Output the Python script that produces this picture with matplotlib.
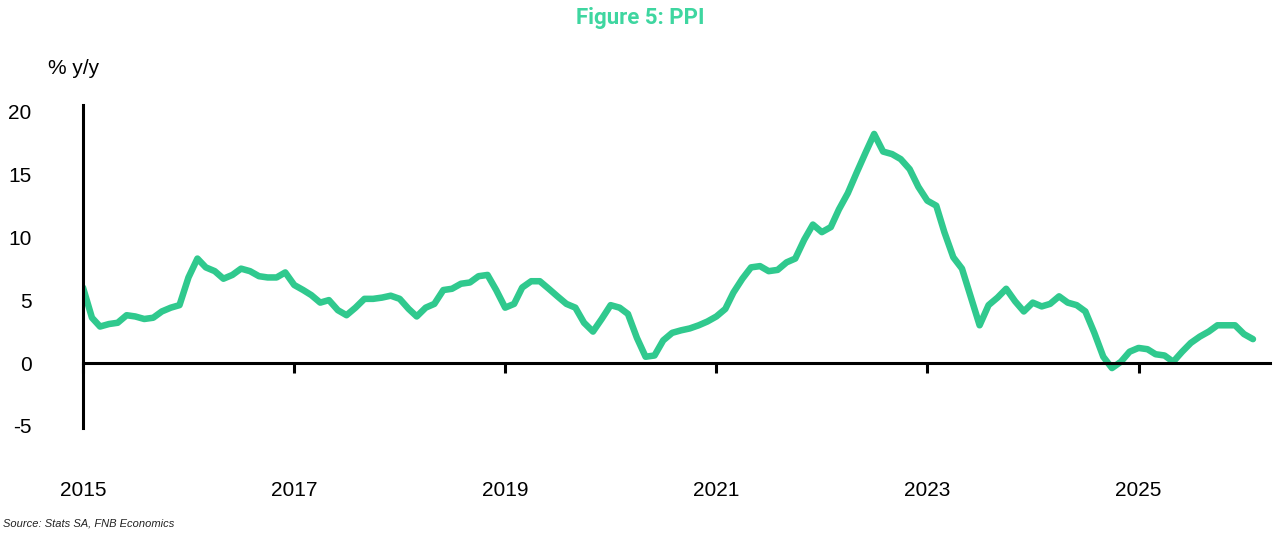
import numpy as np
import pandas as pd
import matplotlib.pyplot as plt

plt.rcParams['font.family'] = ['Liberation Sans', 'DejaVu Sans']

# PPI, % y/y, monthly from Jan 2015
ppi = [
    6.0, 3.6, 2.9, 3.1, 3.2, 3.8, 3.7, 3.5, 3.6, 4.1, 4.4, 4.6,
    6.8, 8.3, 7.6, 7.3, 6.7, 7.0, 7.5, 7.3, 6.9, 6.8, 6.8, 7.2,
    6.2, 5.8, 5.4, 4.8, 5.0, 4.2, 3.8, 4.4, 5.1, 5.1, 5.2, 5.35,
    5.1, 4.3, 3.7, 4.4, 4.7, 5.8, 5.9, 6.3, 6.4, 6.9, 7.0, 5.8,
    4.4, 4.7, 6.0, 6.5, 6.5, 5.9, 5.3, 4.7, 4.4, 3.2, 2.5, 3.5,
    4.6, 4.4, 3.9, 2.0, 0.5, 0.6, 1.8, 2.4, 2.6, 2.75, 3.0, 3.3,
    3.7, 4.3, 5.6, 6.7, 7.6, 7.7, 7.3, 7.4, 8.0, 8.3, 9.8, 11.0,
    10.4, 10.8, 12.2, 13.5, 15.1, 16.7, 18.2, 16.8, 16.6, 16.2, 15.4, 14.0,
    12.9, 12.5, 10.4, 8.4, 7.5, 5.2, 3.0, 4.6, 5.2, 5.9, 4.9, 4.1,
    4.8, 4.5, 4.7, 5.3, 4.8, 4.6, 4.1, 2.4, 0.5, -0.4, 0.1, 0.9,
    1.2, 1.1, 0.7, 0.6, 0.1, 0.9, 1.6, 2.1, 2.5, 3.0, 3.0, 3.0,
    2.3, 1.9,
]
months = pd.date_range('2015-01-01', periods=len(ppi), freq='MS')

year_ticks = ['2015', '2017', '2019', '2021', '2023', '2025']
y_ticks = [-5, 0, 5, 10, 15, 20]

green = '#30C98E'

fig = plt.figure(figsize=(12.8, 5.36), dpi=100)
ax = fig.add_axes([83 / 1280, 1 - 428 / 536, (1270 - 83) / 1280, (428 - 105) / 536])

ax.plot(months, ppi, color=green, lw=4.7, solid_joinstyle='round', solid_capstyle='round')

ax.set_ylim(-5.16, 20.5)
ax.set_xlim(pd.Timestamp('2015-01-01'), pd.Timestamp('2026-04-01'))

ax.spines['top'].set_visible(False)
ax.spines['right'].set_visible(False)
ax.spines['bottom'].set_position(('data', 0))
ax.spines['left'].set_linewidth(2.2)
ax.spines['bottom'].set_linewidth(2.2)

ax.set_xticks(pd.to_datetime(year_ticks))
ax.set_xticklabels(year_ticks)
ax.set_yticks(y_ticks)
ax.set_yticklabels([str(v) for v in y_ticks])
ax.tick_params(axis='x', length=7, width=2.2, direction='out', pad=78, labelsize=15)
ax.tick_params(axis='y', length=0, pad=37, labelsize=15)

fig.text(48 / 1280, 1 - 68 / 536, '% y/y', ha='left', va='center', fontsize=15)
fig.text(0.5, 1 - 18 / 536, 'Figure 5: PPI', ha='center', va='center',
         fontsize=16, fontweight='bold', color='#3ED6A0', family=['Roboto', 'DejaVu Sans'])
fig.text(3 / 1280, 1 - 524 / 536, 'Source: Stats SA, FNB Economics', ha='left', va='center',
         fontsize=8, style='italic', color='#222222')

fig.savefig('out.png', dpi=100)
